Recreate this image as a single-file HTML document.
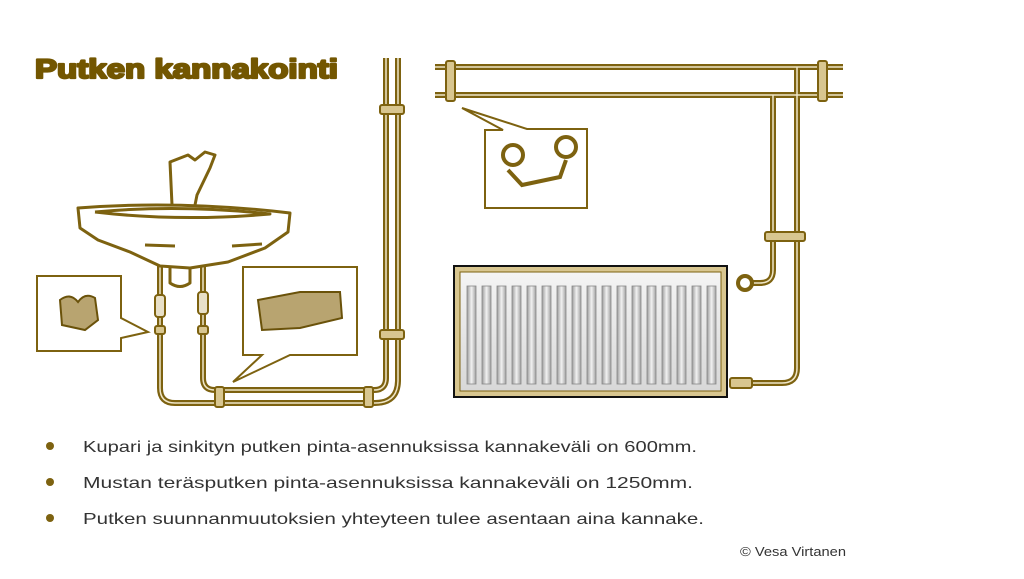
<!DOCTYPE html>
<html><head><meta charset="utf-8"><style>
html,body{margin:0;padding:0;background:#fff;}
svg{display:block;}
</style></head><body>
<svg width="1024" height="579" viewBox="0 0 1024 579" xmlns="http://www.w3.org/2000/svg">
<defs>
<linearGradient id="fin" x1="0" x2="1" y1="0" y2="0">
<stop offset="0" stop-color="#9a9a9a"/><stop offset="0.5" stop-color="#f2f2f2"/><stop offset="1" stop-color="#a0a0a0"/>
</linearGradient>
<linearGradient id="rad" x1="0" x2="0" y1="0" y2="1">
<stop offset="0" stop-color="#f4f4f4"/><stop offset="1" stop-color="#d8d8d8"/>
</linearGradient>
</defs>
<text x="35" y="78" font-family="Liberation Sans, sans-serif" font-weight="bold" font-size="27" fill="#735600" stroke="#735600" stroke-width="2.2" stroke-linejoin="round" textLength="303" lengthAdjust="spacingAndGlyphs">Putken kannakointi</text>

<!-- left pipes -->
<g fill="none" stroke-linejoin="round">
<g stroke="#7d6210" stroke-width="6">
<path d="M398 58 V380 Q398 403 375 403 H175 Q160 403 160 388 V265"/>
<path d="M386 58 V378 Q386 390 374 390 H215 Q203 390 203 378 V265"/>
</g>
<g stroke="#efe6c8" stroke-width="1.5">
<path d="M398 58 V380 Q398 403 375 403 H175 Q160 403 160 388 V265"/>
<path d="M386 58 V378 Q386 390 374 390 H215 Q203 390 203 378 V265"/>
</g>
</g>
<g fill="#d8c690" stroke="#7d6210" stroke-width="2">
<rect x="380" y="105" width="24" height="9" rx="2"/>
<rect x="380" y="330" width="24" height="9" rx="2"/>
<rect x="215" y="387" width="9" height="20" rx="2"/>
<rect x="364" y="387" width="9" height="20" rx="2"/>
<rect x="155" y="326" width="10" height="8" rx="2"/>
<rect x="198" y="326" width="10" height="8" rx="2"/>
<rect x="155" y="295" width="10" height="22" rx="3" fill="#e8e0c8"/>
<rect x="198" y="292" width="10" height="22" rx="3" fill="#e8e0c8"/>
</g>

<!-- sink -->
<g fill="none" stroke="#7d6210" stroke-width="3" stroke-linejoin="round">
<path d="M172 205 L170 162 L188 155 L195 160 L205 152 L215 155 L210 168 L197 195 L195 205"/>
<path d="M78 208 Q180 200 290 213 L288 232 L265 248 L228 262 L190 268 L160 266 L130 252 L98 240 L80 228 Z"/>
<path d="M95 212 Q180 204 270 214 Q180 222 95 212"/>
<path d="M145 245 L175 246 M232 246 L262 244"/>
<path d="M170 266 V283 Q180 290 190 283 V268"/>
</g>

<g fill="#fff" stroke="#7d6210" stroke-width="2">
<path d="M37 276 H121 V318 L148 332 L121 338 V351 H37 Z"/>
<path d="M243 267 H357 V355 H290 L233 382 L262 355 H243 Z"/>
</g>
<g fill="#b8a470" stroke="#6a520a" stroke-width="2">
<path d="M60 300 Q70 292 78 302 Q85 292 95 298 L98 320 L85 330 L62 325 Z"/>
<path d="M258 300 L300 292 L340 292 L342 318 L300 328 L262 330 Z"/>
</g>

<g fill="none">
<g stroke="#7d6210" stroke-width="6">
<path d="M435 67 H843"/><path d="M435 95 H843"/>
<path d="M773 95 V270 Q773 283 760 283 H745"/>
<path d="M797 67 V368 Q797 383 782 383 H735"/>
</g>
<g stroke="#efe6c8" stroke-width="1.5">
<path d="M435 67 H843"/><path d="M435 95 H843"/>
<path d="M773 95 V270 Q773 283 760 283 H745"/>
<path d="M797 67 V368 Q797 383 782 383 H735"/>
</g>
</g>
<g fill="#d8c690" stroke="#7d6210" stroke-width="2">
<rect x="446" y="61" width="9" height="40" rx="2"/>
<rect x="818" y="61" width="9" height="40" rx="2"/>
<rect x="765" y="232" width="40" height="9" rx="2"/>
<rect x="730" y="378" width="22" height="10" rx="2"/>
</g>
<circle cx="745" cy="283" r="7" fill="#fff" stroke="#7d6210" stroke-width="4"/>
<path d="M462 108 L503 130 H485 V208 H587 V129 H527 Z" fill="#fff" stroke="#7d6210" stroke-width="2"/>
<g fill="none" stroke="#7d6210" stroke-width="4">
<circle cx="513" cy="155" r="10"/><circle cx="566" cy="147" r="10"/>
<path d="M508 170 L522 185 L560 177 L566 160"/>
</g>
<rect x="454" y="266" width="273" height="131" fill="#d8c690" stroke="#111" stroke-width="2"/>
<rect x="460" y="272" width="261" height="119" fill="url(#rad)" stroke="#7d6210" stroke-width="1"/>
<g fill="url(#fin)" stroke="#888" stroke-width="0.8">
<rect x="467" y="286" width="9" height="98"/><rect x="482" y="286" width="9" height="98"/><rect x="497" y="286" width="9" height="98"/><rect x="512" y="286" width="9" height="98"/><rect x="527" y="286" width="9" height="98"/><rect x="542" y="286" width="9" height="98"/><rect x="557" y="286" width="9" height="98"/><rect x="572" y="286" width="9" height="98"/><rect x="587" y="286" width="9" height="98"/><rect x="602" y="286" width="9" height="98"/><rect x="617" y="286" width="9" height="98"/><rect x="632" y="286" width="9" height="98"/><rect x="647" y="286" width="9" height="98"/><rect x="662" y="286" width="9" height="98"/><rect x="677" y="286" width="9" height="98"/><rect x="692" y="286" width="9" height="98"/><rect x="707" y="286" width="9" height="98"/>
</g>

<g fill="#7d6210"><circle cx="50" cy="446" r="4"/><circle cx="50" cy="482" r="4"/><circle cx="50" cy="518" r="4"/></g>
<g font-family="Liberation Sans, sans-serif" font-size="16" fill="#333">
<text x="83" y="452" textLength="614" lengthAdjust="spacingAndGlyphs">Kupari ja sinkityn putken pinta-asennuksissa kannakeväli on 600mm.</text>
<text x="83" y="488" textLength="610" lengthAdjust="spacingAndGlyphs">Mustan teräsputken pinta-asennuksissa kannakeväli on 1250mm.</text>
<text x="83" y="524" textLength="621" lengthAdjust="spacingAndGlyphs">Putken suunnanmuutoksien yhteyteen tulee asentaan aina kannake.</text>
<text x="740" y="556" font-size="13" textLength="106" lengthAdjust="spacingAndGlyphs">© Vesa Virtanen</text>
</g>
</svg>
</body></html>
